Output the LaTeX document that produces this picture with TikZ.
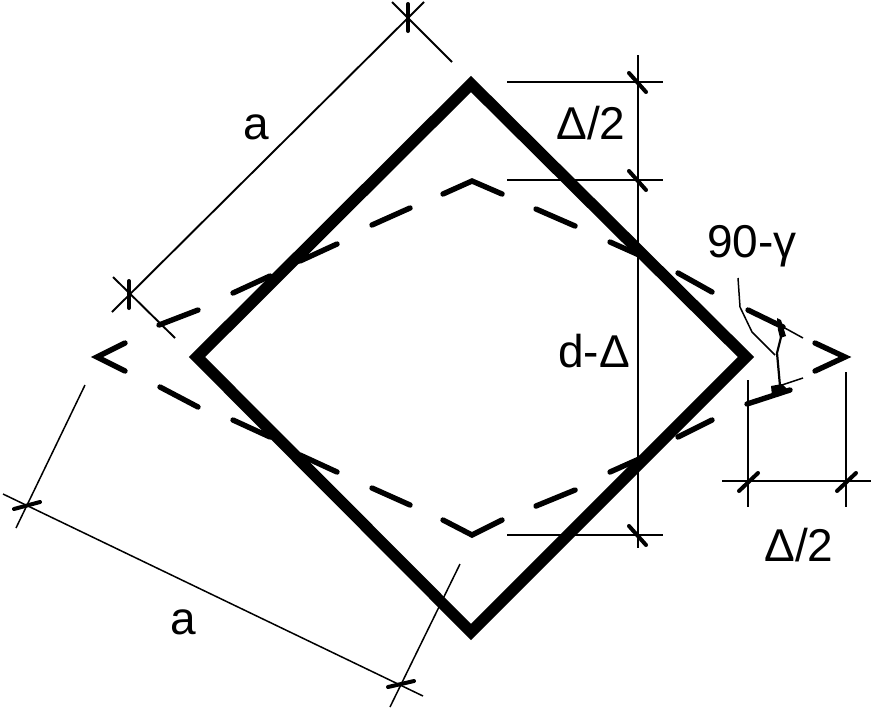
\documentclass[tikz,border=0pt]{standalone}
\usepackage{fontspec}
\setmainfont{Liberation Sans}
\tikzset{
  wall/.style={line width=11.5pt,line join=miter,line cap=butt},
  hidden/.style={line width=5.4pt,line join=miter,line cap=round},
  dimline/.style={line width=1.9pt},
  dimthin/.style={line width=1.5pt},
  tick/.style={line width=4pt,line cap=round},
  lab/.style={inner sep=0pt,font=\fontsize{46}{46}\selectfont}
}
\begin{document}
\begin{tikzpicture}[x=1pt,y=-1pt]
\useasboundingbox (0,0) rectangle (874,710);
% main square
\draw[wall] (471,84) -- (746,357) -- (471,632) -- (197,357) -- cycle;
% hidden rhombus
\draw[hidden] (159,325) -- (198,310);
\draw[hidden] (233,293) -- (270,276);
\draw[hidden] (300,261) -- (337,244);
\draw[hidden] (372,225) -- (410,208);
\draw[hidden] (443,194) -- (472,181) -- (502,194);
\draw[hidden] (536,209) -- (575,226);
\draw[hidden] (610,242) -- (648,259);
\draw[hidden] (678,273) -- (712,292);
\draw[hidden] (748,310) -- (783,327);
\draw[hidden] (815,343) -- (845,357) -- (815,371);
\draw[hidden] (790,390) -- (747,404);
\draw[hidden] (712,420) -- (678,437);
\draw[hidden] (648,455) -- (610,472);
\draw[hidden] (575,490) -- (536,506);
\draw[hidden] (502,520) -- (472,535) -- (443,520);
\draw[hidden] (410,505) -- (372,488);
\draw[hidden] (337,472) -- (300,455);
\draw[hidden] (270,437) -- (233,420);
\draw[hidden] (198,407) -- (160,387);
\draw[hidden] (125,343) -- (97,357) -- (125,371);
% dimension a, upper left
\draw[dimline] (112,312) -- (424,2);
\draw[dimline] (113,277) -- (175,338);
\draw[dimline] (392,2) -- (452,62);
\draw[tick] (129,281) -- (129,308);
\draw[tick] (408,4) -- (408,31);
% dimension a, lower left
\draw[dimthin] (3,494) -- (423,696);
\draw[dimthin] (85,385) -- (16,528);
\draw[dimthin] (460,564) -- (390,707);
\draw[tick] (14,509) -- (40,502);
\draw[tick] (388,687) -- (414,681);
% dimensions at right
\draw[dimline] (638,55) -- (638,548);
\draw[dimline] (507,82) -- (663,82);
\draw[dimline] (507,180) -- (663,180);
\draw[dimline] (507,535) -- (663,535);
\draw[tick] (629,73) -- (646,92);
\draw[tick] (629,171) -- (646,190);
\draw[tick] (629,526) -- (646,545);
% dimension below right
\draw[dimline] (748,380) -- (748,507);
\draw[dimline] (846,372) -- (846,507);
\draw[dimline] (722,481) -- (871,481);
\draw[tick] (739,491) -- (758,473);
\draw[tick] (837,491) -- (856,473);
% angle
\draw[dimthin] (783,327) -- (803,338);
\draw[dimthin] (782,385) -- (803,378);
\draw[line width=2.2pt] (782,333) -- (777,353) -- (780,386);
\fill (777,318) -- (781,320) -- (786,336) -- (780,338) -- (778,330) -- cycle;
\fill (771,386) -- (782,384) -- (790,392) -- (772,396) -- cycle;
\draw[dimthin] (738,278) -- (740,307) -- (752,332) -- (775,355);
% labels
\node[lab] (a1) at (256,127) {a};
\node[lab] (a2) at (183,622) {a};
\node[lab] (d1) at (591,123) {Δ/2};
\node[lab] (d2) at (799,545) {Δ/2};
\node[lab] (dd) at (594,351) {d-Δ};
\node[lab] (g) at (752,246) {90-γ};
\end{tikzpicture}
\end{document}
